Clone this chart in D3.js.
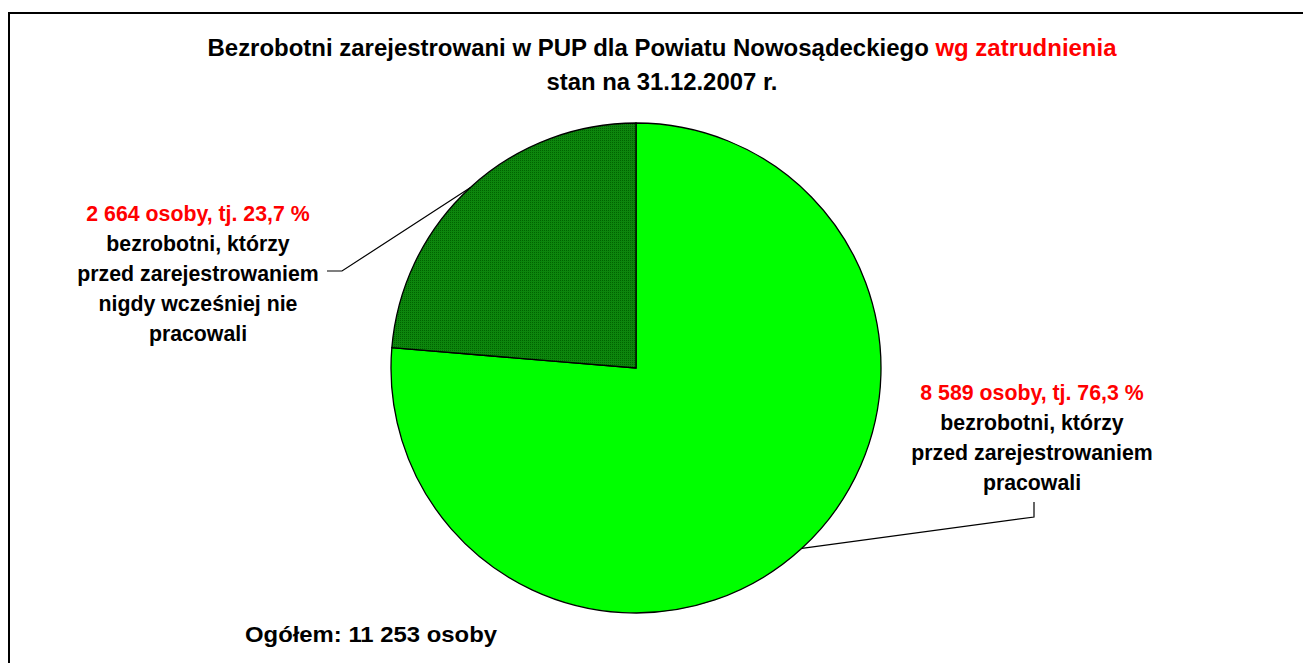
<!DOCTYPE html>
<html lang="pl">
<head>
<meta charset="UTF-8">
<title>Bezrobotni wg zatrudnienia</title>
<style>
  html, body { margin: 0; padding: 0; background: #fff; }
  svg { display: block; }
  text { font-family: "Liberation Sans", Arial, sans-serif; font-weight: bold; }
</style>
<script src="https://cdn.jsdelivr.net/npm/d3@7"></script>
</head>
<body>
<svg id="chart" width="1303" height="663"></svg>
<script>
// data
var categories = ["pracowali", "nigdy nie pracowali"];
var counts = [8589, 2664];
var shares = ["76,3", "23,7"];
var descLines = [
  ["bezrobotni, którzy", "przed zarejestrowaniem", "pracowali"],
  ["bezrobotni, którzy", "przed zarejestrowaniem", "nigdy wcześniej nie", "pracowali"]
];
var colors = ["#00ff00", "url(#darkDots)"];

var W = 1303, H = 663;
var cx = 636, cy = 368, r = 245;

var pl = d3.formatLocale({decimal: ",", thousands: " ", grouping: [3], currency: ["", ""]});
var fmt = pl.format(",d");

var svg = d3.select("#chart");

// dotted dark green fill
var pat = svg.append("defs").append("pattern")
    .attr("id", "darkDots")
    .attr("patternUnits", "userSpaceOnUse")
    .attr("width", 2).attr("height", 2);
pat.append("rect").attr("width", 2).attr("height", 2).attr("fill", "#0d860d");
pat.append("rect").attr("width", 1).attr("height", 1).attr("fill", "#006400");

// frame (only top and left visible)
svg.append("line").attr("x1", 8).attr("y1", 13).attr("x2", W).attr("y2", 13)
  .attr("stroke", "#000").attr("stroke-width", 2);
svg.append("line").attr("x1", 9).attr("y1", 12).attr("x2", 9).attr("y2", H)
  .attr("stroke", "#000").attr("stroke-width", 2);

// title (condensed look)
var t1 = svg.append("text").attr("x", 662).attr("y", 56)
  .attr("text-anchor", "middle").attr("font-size", 23)
  .attr("textLength", 909).attr("lengthAdjust", "spacingAndGlyphs");
t1.append("tspan").attr("fill", "#000").text("Bezrobotni zarejestrowani w PUP dla Powiatu Nowosądeckiego ");
t1.append("tspan").attr("fill", "#ff0000").text("wg zatrudnienia");
svg.append("text").attr("x", 662).attr("y", 90)
  .attr("text-anchor", "middle").attr("font-size", 23).attr("fill", "#000")
  .attr("textLength", 231).attr("lengthAdjust", "spacingAndGlyphs")
  .text("stan na 31.12.2007 r.");

// pie
var pie = d3.pie().sort(null).value(function(d) { return d; });
var arcs = pie(counts);
var arc = d3.arc().innerRadius(0).outerRadius(r);

var g = svg.append("g").attr("transform", "translate(" + cx + "," + cy + ")");
g.selectAll("path").data(arcs).enter().append("path")
  .attr("d", arc)
  .attr("fill", function(d, i) { return colors[i]; })
  .attr("stroke", "#000").attr("stroke-width", 1.3);

// labels
var labelPos = [
  {x: 1032, y: 400, lead: [[1034, 517], [1034, 502]]},
  {x: 198, y: 221, lead: [[342, 271], [327, 271]]}
];

arcs.forEach(function(d, i) {
  var a = (d.startAngle + d.endAngle) / 2;
  var px = cx + r * Math.sin(a), py = cy - r * Math.cos(a);
  var pts = [[px, py]].concat(labelPos[i].lead);
  svg.append("path")
    .attr("d", d3.line()(pts))
    .attr("fill", "none").attr("stroke", "#000").attr("stroke-width", 1.2);

  var lab = svg.append("text").attr("text-anchor", "middle").attr("font-size", 21.3);
  lab.append("tspan").attr("x", labelPos[i].x).attr("y", labelPos[i].y)
    .attr("fill", "#ff0000")
    .text(fmt(counts[i]) + " osoby, tj. " + shares[i] + " %");
  descLines[i].forEach(function(s, k) {
    lab.append("tspan").attr("x", labelPos[i].x).attr("dy", 30)
      .attr("fill", "#000").text(s);
  });
});

// total
var total = d3.sum(counts);
svg.append("text").attr("x", 245).attr("y", 642).attr("font-size", 22.5)
  .attr("fill", "#000").attr("textLength", 252).attr("lengthAdjust", "spacingAndGlyphs")
  .text("Ogółem: " + fmt(total) + " osoby");
</script>
</body>
</html>
